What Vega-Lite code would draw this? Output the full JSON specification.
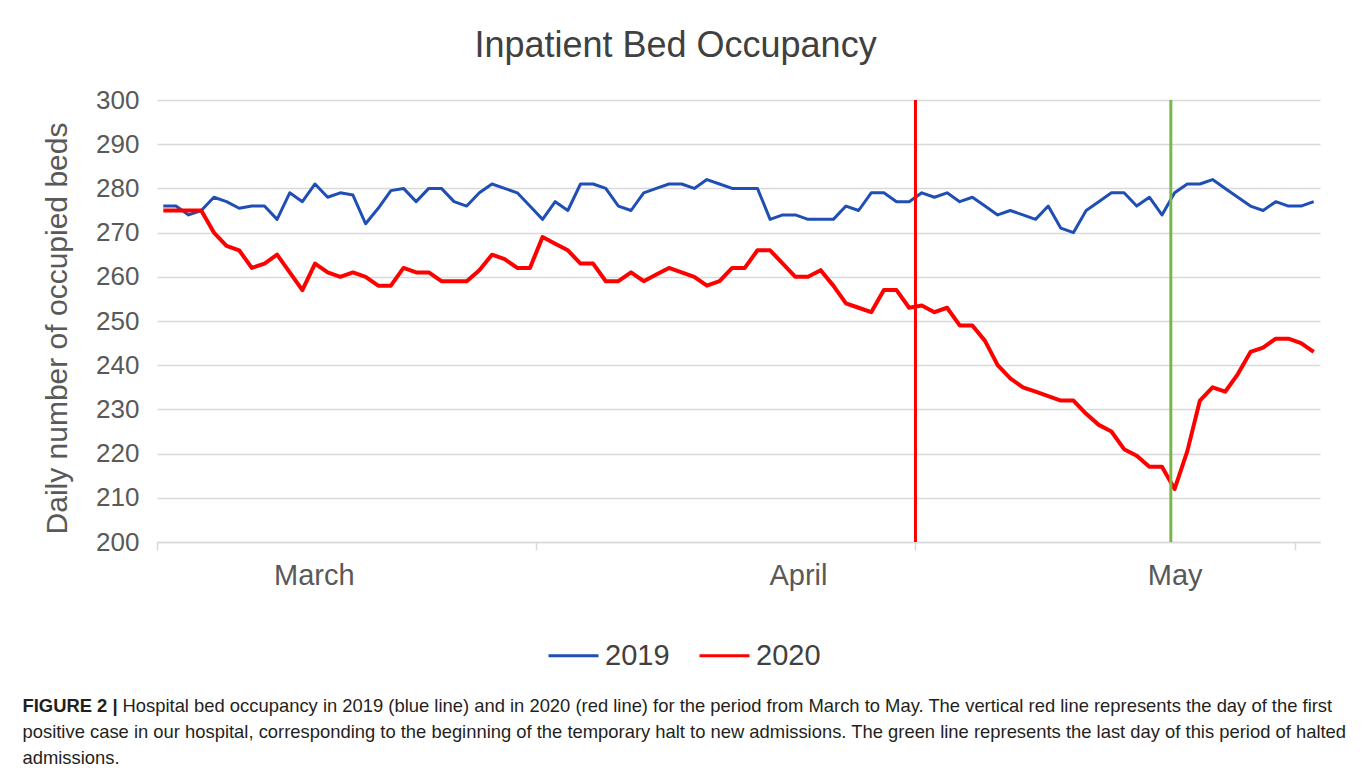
{
  "$schema": "https://vega.github.io/schema/vega-lite/v6.json",
  "width": 1163,
  "height": 442,
  "autosize": {"type": "none"},
  "padding": {"left": 157, "top": 100, "right": 43, "bottom": 241},
  "background": "white",
  "title": {"text": "Inpatient Bed Occupancy", "anchor": "middle", "frame": "group", "dx": -63, "offset": -6, "baseline": "alphabetic", "fontSize": 36, "font": "Liberation Sans", "fontWeight": "normal", "color": "#404040"},
  "datasets": {
    "beds": [
      {"day":0,"year":"2019","beds":276},{"day":1,"year":"2019","beds":276},{"day":2,"year":"2019","beds":274},{"day":3,"year":"2019","beds":275},{"day":4,"year":"2019","beds":278},{"day":5,"year":"2019","beds":277},{"day":6,"year":"2019","beds":275.5},{"day":7,"year":"2019","beds":276},{"day":8,"year":"2019","beds":276},{"day":9,"year":"2019","beds":273},
      {"day":10,"year":"2019","beds":279},{"day":11,"year":"2019","beds":277},{"day":12,"year":"2019","beds":281},{"day":13,"year":"2019","beds":278},{"day":14,"year":"2019","beds":279},{"day":15,"year":"2019","beds":278.5},{"day":16,"year":"2019","beds":272},{"day":17,"year":"2019","beds":275.5},{"day":18,"year":"2019","beds":279.5},{"day":19,"year":"2019","beds":280},
      {"day":20,"year":"2019","beds":277},{"day":21,"year":"2019","beds":280},{"day":22,"year":"2019","beds":280},{"day":23,"year":"2019","beds":277},{"day":24,"year":"2019","beds":276},{"day":25,"year":"2019","beds":279},{"day":26,"year":"2019","beds":281},{"day":27,"year":"2019","beds":280},{"day":28,"year":"2019","beds":279},{"day":29,"year":"2019","beds":276},
      {"day":30,"year":"2019","beds":273},{"day":31,"year":"2019","beds":277},{"day":32,"year":"2019","beds":275},{"day":33,"year":"2019","beds":281},{"day":34,"year":"2019","beds":281},{"day":35,"year":"2019","beds":280},{"day":36,"year":"2019","beds":276},{"day":37,"year":"2019","beds":275},{"day":38,"year":"2019","beds":279},{"day":39,"year":"2019","beds":280},
      {"day":40,"year":"2019","beds":281},{"day":41,"year":"2019","beds":281},{"day":42,"year":"2019","beds":280},{"day":43,"year":"2019","beds":282},{"day":44,"year":"2019","beds":281},{"day":45,"year":"2019","beds":280},{"day":46,"year":"2019","beds":280},{"day":47,"year":"2019","beds":280},{"day":48,"year":"2019","beds":273},{"day":49,"year":"2019","beds":274},
      {"day":50,"year":"2019","beds":274},{"day":51,"year":"2019","beds":273},{"day":52,"year":"2019","beds":273},{"day":53,"year":"2019","beds":273},{"day":54,"year":"2019","beds":276},{"day":55,"year":"2019","beds":275},{"day":56,"year":"2019","beds":279},{"day":57,"year":"2019","beds":279},{"day":58,"year":"2019","beds":277},{"day":59,"year":"2019","beds":277},
      {"day":60,"year":"2019","beds":279},{"day":61,"year":"2019","beds":278},{"day":62,"year":"2019","beds":279},{"day":63,"year":"2019","beds":277},{"day":64,"year":"2019","beds":278},{"day":65,"year":"2019","beds":276},{"day":66,"year":"2019","beds":274},{"day":67,"year":"2019","beds":275},{"day":68,"year":"2019","beds":274},{"day":69,"year":"2019","beds":273},
      {"day":70,"year":"2019","beds":276},{"day":71,"year":"2019","beds":271},{"day":72,"year":"2019","beds":270},{"day":73,"year":"2019","beds":275},{"day":74,"year":"2019","beds":277},{"day":75,"year":"2019","beds":279},{"day":76,"year":"2019","beds":279},{"day":77,"year":"2019","beds":276},{"day":78,"year":"2019","beds":278},{"day":79,"year":"2019","beds":274},
      {"day":80,"year":"2019","beds":279},{"day":81,"year":"2019","beds":281},{"day":82,"year":"2019","beds":281},{"day":83,"year":"2019","beds":282},{"day":84,"year":"2019","beds":280},{"day":85,"year":"2019","beds":278},{"day":86,"year":"2019","beds":276},{"day":87,"year":"2019","beds":275},{"day":88,"year":"2019","beds":277},{"day":89,"year":"2019","beds":276},
      {"day":90,"year":"2019","beds":276},{"day":91,"year":"2019","beds":277},
      {"day":0,"year":"2020","beds":275},{"day":1,"year":"2020","beds":275},{"day":2,"year":"2020","beds":275},{"day":3,"year":"2020","beds":275},{"day":4,"year":"2020","beds":270},{"day":5,"year":"2020","beds":267},{"day":6,"year":"2020","beds":266},{"day":7,"year":"2020","beds":262},{"day":8,"year":"2020","beds":263},{"day":9,"year":"2020","beds":265},
      {"day":10,"year":"2020","beds":261},{"day":11,"year":"2020","beds":257},{"day":12,"year":"2020","beds":263},{"day":13,"year":"2020","beds":261},{"day":14,"year":"2020","beds":260},{"day":15,"year":"2020","beds":261},{"day":16,"year":"2020","beds":260},{"day":17,"year":"2020","beds":258},{"day":18,"year":"2020","beds":258},{"day":19,"year":"2020","beds":262},
      {"day":20,"year":"2020","beds":261},{"day":21,"year":"2020","beds":261},{"day":22,"year":"2020","beds":259},{"day":23,"year":"2020","beds":259},{"day":24,"year":"2020","beds":259},{"day":25,"year":"2020","beds":261.5},{"day":26,"year":"2020","beds":265},{"day":27,"year":"2020","beds":264},{"day":28,"year":"2020","beds":262},{"day":29,"year":"2020","beds":262},
      {"day":30,"year":"2020","beds":269},{"day":31,"year":"2020","beds":267.5},{"day":32,"year":"2020","beds":266},{"day":33,"year":"2020","beds":263},{"day":34,"year":"2020","beds":263},{"day":35,"year":"2020","beds":259},{"day":36,"year":"2020","beds":259},{"day":37,"year":"2020","beds":261},{"day":38,"year":"2020","beds":259},{"day":39,"year":"2020","beds":260.5},
      {"day":40,"year":"2020","beds":262},{"day":41,"year":"2020","beds":261},{"day":42,"year":"2020","beds":260},{"day":43,"year":"2020","beds":258},{"day":44,"year":"2020","beds":259},{"day":45,"year":"2020","beds":262},{"day":46,"year":"2020","beds":262},{"day":47,"year":"2020","beds":266},{"day":48,"year":"2020","beds":266},{"day":49,"year":"2020","beds":263},
      {"day":50,"year":"2020","beds":260},{"day":51,"year":"2020","beds":260},{"day":52,"year":"2020","beds":261.5},{"day":53,"year":"2020","beds":258},{"day":54,"year":"2020","beds":254},{"day":55,"year":"2020","beds":253},{"day":56,"year":"2020","beds":252},{"day":57,"year":"2020","beds":257},{"day":58,"year":"2020","beds":257},{"day":59,"year":"2020","beds":253},
      {"day":60,"year":"2020","beds":253.5},{"day":61,"year":"2020","beds":252},{"day":62,"year":"2020","beds":253},{"day":63,"year":"2020","beds":249},{"day":64,"year":"2020","beds":249},{"day":65,"year":"2020","beds":245.5},{"day":66,"year":"2020","beds":240},{"day":67,"year":"2020","beds":237},{"day":68,"year":"2020","beds":235},{"day":69,"year":"2020","beds":234},
      {"day":70,"year":"2020","beds":233},{"day":71,"year":"2020","beds":232},{"day":72,"year":"2020","beds":232},{"day":73,"year":"2020","beds":229},{"day":74,"year":"2020","beds":226.5},{"day":75,"year":"2020","beds":225},{"day":76,"year":"2020","beds":221},{"day":77,"year":"2020","beds":219.5},{"day":78,"year":"2020","beds":217},{"day":79,"year":"2020","beds":217},
      {"day":80,"year":"2020","beds":212},{"day":81,"year":"2020","beds":220.5},{"day":82,"year":"2020","beds":232},{"day":83,"year":"2020","beds":235},{"day":84,"year":"2020","beds":234},{"day":85,"year":"2020","beds":238},{"day":86,"year":"2020","beds":243},{"day":87,"year":"2020","beds":244},{"day":88,"year":"2020","beds":246},{"day":89,"year":"2020","beds":246},
      {"day":90,"year":"2020","beds":245},{"day":91,"year":"2020","beds":243}
    ],
    "markers": [
      {"day": 59.5, "event": "First positive case"},
      {"day": 79.7, "event": "End of halted admissions"}
    ]
  },
  "layer": [
    {
      "data": {"name": "beds"},
      "transform": [{"filter": "datum.year == '2019'"}],
      "mark": {"type": "line", "strokeWidth": 3, "strokeJoin": "round"},
      "encoding": {
        "x": {
          "field": "day", "type": "quantitative",
          "scale": {"domain": [-0.5, 91.5], "nice": false, "zero": false},
          "axis": {
            "orient": "bottom", "values": [-0.5, 29.5, 59.5, 89.5], "labels": false,
            "ticks": true, "tickSize": 8, "tickColor": "#d9d9d9", "tickWidth": 1.5,
            "domain": true, "domainColor": "#d9d9d9", "domainWidth": 1.5, "grid": false,
            "title": ["positive case in our hospital, corresponding to the beginning of the temporary halt to new admissions. The green line represents the last day of this period of halted", "admissions."],
            "titleX": -135, "titleY": 195, "titleAlign": "left", "titleBaseline": "alphabetic", "titleAngle": 0,
            "titleLineHeight": 26, "titleFontSize": 18.4, "titleFontWeight": "normal", "titleColor": "#231f20", "titleFont": "Liberation Sans", "titleLimit": 3000
          }
        },
        "y": {
          "field": "beds", "type": "quantitative",
          "scale": {"domain": [200, 300], "nice": false, "zero": false},
          "axis": {
            "values": [200, 210, 220, 230, 240, 250, 260, 270, 280, 290, 300],
            "grid": true, "gridColor": "#d9d9d9", "gridWidth": 1.5, "domain": false, "ticks": false,
            "labelFontSize": 26, "labelColor": "#595959", "labelPadding": 18, "labelFont": "Liberation Sans",
            "title": "Daily number of occupied beds", "titleFontSize": 30, "titleColor": "#595959", "titleFontWeight": "normal", "titleFont": "Liberation Sans",
            "titleX": -100, "titleY": 228, "titleAlign": "center", "titleBaseline": "middle", "titleAngle": -90
          }
        },
        "color": {
          "field": "year", "type": "nominal",
          "scale": {"domain": ["2019", "2020"], "range": ["#1f4eb4", "#ff0000"]},
          "legend": {
            "orient": "none", "legendX": 390, "legendY": 529, "direction": "horizontal", "title": null,
            "symbolType": "stroke", "symbolSize": 2500, "symbolStrokeWidth": 3,
            "labelFontSize": 29, "labelColor": "#404040", "labelFont": "Liberation Sans",
            "columnPadding": 23, "labelOffset": 5
          }
        }
      }
    },
    {
      "data": {"name": "beds"},
      "transform": [{"filter": "datum.year == '2020'"}],
      "mark": {"type": "line", "strokeWidth": 4, "strokeJoin": "round"},
      "encoding": {
        "x": {
          "field": "day", "type": "quantitative",
          "axis": {
            "orient": "bottom", "labels": false, "ticks": false, "domain": false, "grid": false,
            "title": "Hospital bed occupancy in 2019 (blue line) and in 2020 (red line) for the period from March to May. The vertical red line represents the day of the first",
            "titleX": -35, "titleY": 169, "titleAlign": "left", "titleBaseline": "alphabetic", "titleAngle": 0,
            "titleFontSize": 18.4, "titleFontWeight": "normal", "titleColor": "#231f20", "titleFont": "Liberation Sans", "titleLimit": 3000
          }
        },
        "y": {"field": "beds", "type": "quantitative"},
        "color": {"field": "year", "type": "nominal"}
      }
    },
    {
      "data": {"name": "markers"},
      "mark": {"type": "rule", "strokeWidth": 3},
      "encoding": {
        "x": {
          "field": "day", "type": "quantitative",
          "axis": {
            "orient": "bottom", "values": [11.9, 50.2, 80],
            "labelExpr": "datum.value < 30 ? 'March' : datum.value < 60 ? 'April' : 'May'",
            "ticks": false, "tickSize": 0, "domain": false, "grid": false, "labelFlush": false, "labelOverlap": false,
            "labelPadding": 19, "labelFontSize": 29, "labelColor": "#595959", "labelFont": "Liberation Sans",
            "title": "FIGURE 2 |", "titleX": -135, "titleY": 169, "titleAlign": "left", "titleBaseline": "alphabetic", "titleAngle": 0,
            "titleFontSize": 18.4, "titleFontWeight": "bold", "titleColor": "#231f20", "titleFont": "Liberation Sans"
          }
        },
        "stroke": {
          "field": "event", "type": "nominal",
          "scale": {"domain": ["First positive case", "End of halted admissions"], "range": ["#ff0000", "#7ab648"]},
          "legend": null
        }
      }
    }
  ],
  "resolve": {"axis": {"x": "independent"}},
  "config": {
    "view": {"stroke": null},
    "font": "Liberation Sans"
  }
}
